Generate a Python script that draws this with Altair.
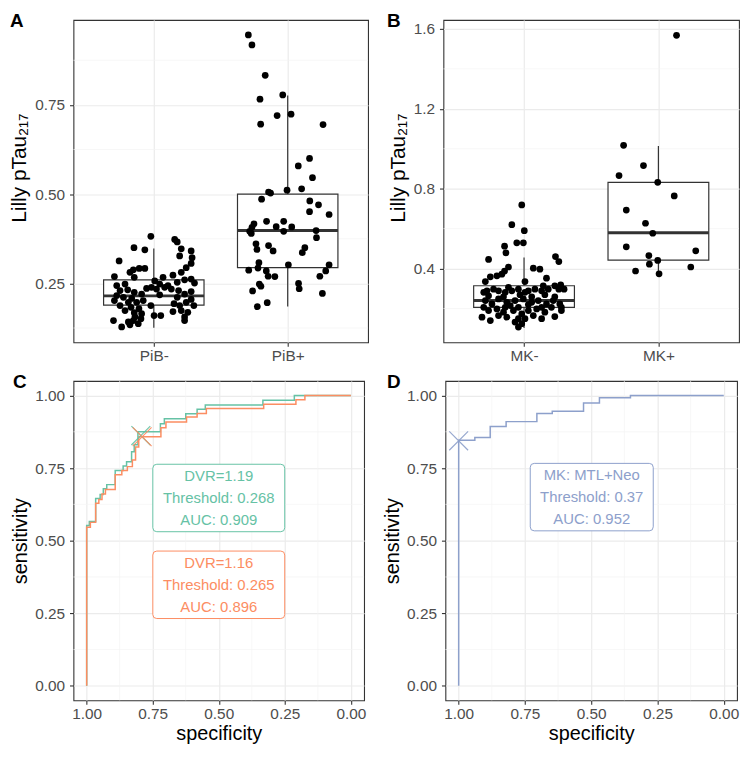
import altair as alt
import pandas as pd

FONT = "Liberation Sans"
GREEN, ORANGE, BLUE = "#66C2A5", "#FC8D62", "#8DA0CB"
DARK = "#333333"

# ---------------- Panel A data (offset from category centre, value) ----------------
a_cats = ["PiB-", "PiB+"]
a_neg = [(-0.022,0.382),(0.156,0.373),(0.175,0.366),(-0.148,0.350),(-0.067,0.344),(0.205,0.347),
         (0.279,0.341),(0.193,0.327),(0.286,0.322),(-0.259,0.313),(0.279,0.306),(0.242,0.294),
         (-0.153,0.288),(-0.109,0.292),(-0.067,0.292),(-0.178,0.281),(0.205,0.281),(-0.294,0.269),
         (-0.146,0.267),(0.069,0.267),(0.007,0.257),(0.143,0.273),(0.230,0.260),(0.279,0.262),
         (-0.277,0.244),(-0.215,0.248),(0.044,0.248),(0.106,0.244),(0.175,0.253),(0.304,0.251),
         (-0.054,0.236),(-0.017,0.239),(0.020,0.234),(0.081,0.239),(0.131,0.234),(-0.252,0.230),
         (-0.195,0.232),(-0.146,0.225),(-0.091,0.220),(0.185,0.230),(0.279,0.227),(-0.277,0.216),
         (-0.227,0.211),(-0.165,0.208),(0.044,0.218),(0.175,0.211),(0.230,0.220),(-0.294,0.202),
         (-0.190,0.197),(-0.128,0.197),(-0.079,0.202),(0.151,0.193),(0.242,0.197),(0.279,0.205),
         (-0.252,0.188),(-0.170,0.183),(-0.111,0.179),(-0.022,0.188),(0.193,0.188),(0.299,0.188),
         (-0.215,0.174),(-0.146,0.168),(-0.091,0.165),(0.205,0.174),(0.254,0.169),(0.143,0.171),
         (0.002,0.160),(0.052,0.160),(-0.141,0.156),(0.230,0.156),(-0.301,0.146),(-0.190,0.142),
         (-0.153,0.146),(-0.116,0.137),(-0.096,0.151),(0.230,0.146),(-0.240,0.128),(-0.178,0.134)]
a_pos = [(-0.294,0.946),(-0.267,0.918),(-0.168,0.833),(-0.207,0.766),(-0.037,0.778),(-0.202,0.696),
         (-0.079,0.720),(0.025,0.724),(0.264,0.695),(0.163,0.600),(0.079,0.579),(0.185,0.546),
         (-0.005,0.511),(0.104,0.515),(-0.143,0.506),(-0.128,0.503),(-0.195,0.486),(0.165,0.481),
         (0.230,0.470),(0.163,0.451),(0.309,0.443),(-0.158,0.424),(-0.030,0.424),(-0.086,0.409),
         (0.030,0.408),(-0.252,0.417),(-0.267,0.407),(-0.284,0.396),(-0.272,0.390),(-0.030,0.396),
         (0.212,0.398),(0.215,0.378),(-0.237,0.361),(-0.230,0.345),(-0.143,0.356),(-0.109,0.341),
         (0.128,0.350),(0.109,0.336),(-0.215,0.308),(0.005,0.302),(0.309,0.302),(-0.291,0.287),
         (-0.222,0.293),(-0.160,0.285),(-0.146,0.270),(-0.096,0.269),(0.284,0.285),(0.240,0.270),
         (-0.212,0.248),(-0.200,0.242),(0.081,0.250),(0.086,0.235),(-0.262,0.229),(0.259,0.222),
         (-0.153,0.196),(-0.227,0.185)]
# box statistics per category: lower whisker, q1, median, q3, upper whisker
a_lo = [0.126, 0.185]
a_q1 = [0.189, 0.294]
a_med = [0.215, 0.398]
a_q3 = [0.260, 0.500]
a_hi = [0.348, 0.776]
a_ticks = [0.25, 0.50, 0.75]
a_minor = [0.125, 0.375, 0.625, 0.875]

# ---------------- Panel B data ----------------
b_cats = ["MK-", "MK+"]
b_neg = [(-0.017,0.719),(-0.091,0.620),(0.002,0.590),(-0.054,0.529),(-0.005,0.529),(-0.145,0.512),
         (-0.135,0.479),(-0.264,0.446),(0.234,0.460),(0.259,0.435),(-0.116,0.408),(-0.145,0.388),
         (0.069,0.402),(0.118,0.397),(-0.202,0.364),(-0.165,0.372),(-0.251,0.359),(0.167,0.352),
         (0.007,0.335),(-0.288,0.335),(0.273,0.319),(0.298,0.297),(0.229,0.314),(0.259,0.297),
         (-0.300,0.281),(-0.227,0.297),(-0.190,0.289),(-0.140,0.281),(-0.091,0.289),(-0.042,0.297),
         (0.032,0.289),(0.081,0.297),(0.131,0.289),(0.180,0.297),(-0.264,0.264),(-0.153,0.259),
         (-0.030,0.269),(0.057,0.259),(0.155,0.269),(0.229,0.259),(-0.288,0.240),(-0.239,0.223),
         (-0.190,0.248),(-0.128,0.231),(-0.067,0.240),(-0.005,0.248),(0.057,0.231),(0.106,0.240),
         (0.167,0.223),(0.217,0.240),(0.266,0.223),(-0.103,0.215),(0.032,0.220),(-0.264,0.190),
         (-0.202,0.198),(-0.153,0.182),(-0.079,0.190),(-0.017,0.173),(0.032,0.190),(0.094,0.198),
         (0.155,0.182),(0.204,0.206),(0.278,0.206),(0.278,0.190),(-0.300,0.206),(0.131,0.206),
         (-0.140,0.206),(-0.042,0.206),(-0.313,0.157),(-0.251,0.140),(-0.128,0.157),(-0.042,0.149),
         (-0.017,0.124),(0.007,0.149),(0.069,0.165),(0.131,0.149),(-0.042,0.107),(-0.190,0.165),
         (0.229,0.160),(-0.067,0.132),(-0.116,0.306),(-0.276,0.289),(0.007,0.281),(0.143,0.314)]
b_pos = [(0.135,1.568),(-0.259,1.017),(-0.111,0.916),(-0.293,0.866),(-0.005,0.832),(0.118,0.764),
         (-0.239,0.693),(-0.096,0.627),(-0.042,0.577),(-0.239,0.509),(0.278,0.489),(-0.071,0.465),
         (-0.005,0.441),(-0.067,0.422),(0.241,0.408),(-0.170,0.388),(0.005,0.374)]
b_lo = [0.102, 0.374]
b_q1 = [0.206, 0.442]
b_med = [0.240, 0.579]
b_q3 = [0.314, 0.832]
b_hi = [0.455, 1.014]
b_ticks = [0.4, 0.8, 1.2, 1.6]
b_minor = [0.2, 0.6, 1.0, 1.4]

# ---------------- Panel C data (ROC step vertices) ----------------
c_green_spec = [1.000,1.000,0.990,0.990,0.966,0.966,0.949,0.949,0.937,0.937,0.924,0.924,0.892,0.892,
                0.862,0.862,0.849,0.849,0.830,0.830,0.820,0.820,0.806,0.806,0.721,0.721,0.706,0.706,
                0.625,0.625,0.582,0.582,0.551,0.551,0.333,0.333,0.214,0.214,0.000]
c_green_sens = [0.000,0.552,0.552,0.566,0.566,0.645,0.645,0.659,0.659,0.679,0.679,0.693,0.693,0.742,
                0.742,0.757,0.757,0.772,0.772,0.806,0.806,0.830,0.830,0.875,0.875,0.903,0.903,0.920,
                0.920,0.937,0.937,0.953,0.953,0.967,0.967,0.984,0.984,1.000,1.000]
c_orange_spec = [1.000,1.000,0.986,0.986,0.966,0.966,0.954,0.954,0.942,0.942,0.929,0.929,0.892,0.892,
                 0.867,0.867,0.846,0.846,0.827,0.827,0.815,0.815,0.803,0.803,0.719,0.719,0.700,0.700,
                 0.622,0.622,0.582,0.582,0.547,0.547,0.330,0.330,0.208,0.208,0.174,0.174,0.000]
c_orange_sens = [0.000,0.546,0.546,0.563,0.563,0.629,0.629,0.642,0.642,0.661,0.661,0.676,0.676,0.727,
                 0.727,0.742,0.742,0.755,0.755,0.778,0.778,0.823,0.823,0.858,0.858,0.889,0.889,0.909,
                 0.909,0.926,0.926,0.938,0.938,0.955,0.955,0.970,0.970,0.985,0.985,1.000,1.000]
c_best_spec = [0.795, 0.790]
c_best_sens = [0.862, 0.858]
c_label_spec = [0.50, 0.50]
c_label_sens = [0.647, 0.348]
c_label_text = [["DVR=1.19", "Threshold: 0.268", "AUC: 0.909"],
                ["DVR=1.16", "Threshold: 0.265", "AUC: 0.896"]]

# ---------------- Panel D data ----------------
d_spec = [1.000,1.000,0.939,0.939,0.881,0.881,0.821,0.821,0.705,0.705,0.647,0.647,0.529,0.529,
          0.469,0.469,0.352,0.352,0.000]
d_sens = [0.000,0.846,0.846,0.855,0.855,0.893,0.893,0.910,0.910,0.938,0.938,0.946,0.946,0.974,
          0.974,0.992,0.992,1.000,1.000]
d_best_spec = [1.000]
d_best_sens = [0.844]
d_label_spec = [0.498]
d_label_sens = [0.650]
d_label_text = [["MK: MTL+Neo", "Threshold: 0.37", "AUC: 0.952"]]

roc_ticks = [0.00, 0.25, 0.50, 0.75, 1.00]
roc_minor = [0.125, 0.375, 0.625, 0.875]

YTITLE = "Lilly pTau\u2082\u2081\u2087"
CROSS = "M-1,-1L1,1M-1,1L1,-1"


def rounded_box(w, h, r):
    s = w / 2.0
    hh = h / 2.0 / s
    c = r / s
    f = lambda v: f"{v:.4f}"
    return (f"M{f(-1+c)},{f(-hh)}H{f(1-c)}Q1,{f(-hh)} 1,{f(-hh+c)}V{f(hh-c)}"
            f"Q1,{f(hh)} {f(1-c)},{f(hh)}H{f(-1+c)}Q-1,{f(hh)} -1,{f(hh-c)}"
            f"V{f(-hh+c)}Q-1,{f(-hh)} {f(-1+c)},{f(-hh)}Z")


def panel_label(letter, dx):
    return alt.Chart(pd.DataFrame({"t": [letter]})).mark_text(
        align="left", baseline="top", fontSize=19, fontWeight="bold",
        font=FONT, color="black").encode(x=alt.value(dx), y=alt.value(-8), text="t:N")


def box_panel(letter, ldx, cats, neg, pos, lo, q1, med, q3, hi, ydom, yticks, yfmt, minor, w, h, title_y):
    rows = [{"x": 1 + o, "v": v} for o, v in neg] + [{"x": 2 + o, "v": v} for o, v in pos]
    pts = pd.DataFrame(rows)
    stats = pd.DataFrame({"cat": [1, 2], "lo": lo, "q1": q1, "med": med, "q3": q3, "hi": hi})
    xs = alt.Scale(domain=[0.4, 2.6], nice=False, zero=False)
    ys = alt.Scale(domain=ydom, nice=False, zero=False)
    xa = alt.Axis(values=[1, 2], title=None, grid=True, labelPadding=2,
                  labelExpr=f"datum.value == 1 ? '{cats[0]}' : '{cats[1]}'")
    ya = alt.Axis(values=yticks, format=yfmt, title=YTITLE, grid=True, titleY=title_y,
                  titleFontSize=21, titlePadding=5, labelPadding=5)

    minor_l = alt.Chart(pd.DataFrame({"m": minor})).mark_rule(
        color="#F3F3F3", strokeWidth=0.7).encode(y=alt.Y("m:Q", scale=ys, axis=ya))
    base = alt.Chart(stats).transform_calculate(
        xl="datum.cat - 0.375", xr="datum.cat + 0.375")
    wl = base.mark_rule(color=DARK, strokeWidth=1.2).encode(
        x=alt.X("cat:Q", scale=xs, axis=xa), y=alt.Y("lo:Q", scale=ys, axis=ya), y2="q1:Q")
    wh = base.mark_rule(color=DARK, strokeWidth=1.2).encode(
        x=alt.X("cat:Q", scale=xs, axis=xa), y=alt.Y("q3:Q", scale=ys, axis=ya), y2="hi:Q")
    bx = base.mark_rect(fill="white", stroke=DARK, strokeWidth=1.2).encode(
        x=alt.X("xl:Q", scale=xs, axis=xa), x2="xr:Q",
        y=alt.Y("q1:Q", scale=ys, axis=ya), y2="q3:Q")
    md = base.mark_rule(color=DARK, strokeWidth=3).encode(
        x=alt.X("xl:Q", scale=xs, axis=xa), x2="xr:Q", y=alt.Y("med:Q", scale=ys, axis=ya))
    pt = alt.Chart(pts).mark_circle(color="black", size=46, opacity=1).encode(
        x=alt.X("x:Q", scale=xs, axis=xa), y=alt.Y("v:Q", scale=ys, axis=ya))
    lab = panel_label(letter, ldx)
    return alt.layer(minor_l, wl, wh, bx, md, pt, lab).properties(width=w, height=h)


def roc_panel(letter, ldx, curves, bests, labels, w, h):
    xs = alt.Scale(domain=[-0.05, 1.05], nice=False, zero=False, reverse=True)
    ys = alt.Scale(domain=[-0.05, 1.05], nice=False, zero=False)
    xa = alt.Axis(values=roc_ticks, format=".2f", title="specificity", grid=True,
                  titlePadding=2, labelPadding=2)
    ya = alt.Axis(values=roc_ticks, format=".2f", title="sensitivity", grid=True,
                  titlePadding=4, labelPadding=5)
    layers = [
        alt.Chart(pd.DataFrame({"m": roc_minor})).mark_rule(color="#F3F3F3", strokeWidth=0.7)
        .encode(y=alt.Y("m:Q", scale=ys, axis=ya)),
        alt.Chart(pd.DataFrame({"m": roc_minor})).mark_rule(color="#F3F3F3", strokeWidth=0.7)
        .encode(x=alt.X("m:Q", scale=xs, axis=xa)),
    ]
    for spec, sens, col in curves:
        df = pd.DataFrame({"spec": spec, "sens": sens, "i": list(range(len(spec)))})
        layers.append(alt.Chart(df).mark_line(color=col, strokeWidth=1.5).encode(
            x=alt.X("spec:Q", scale=xs, axis=xa), y=alt.Y("sens:Q", scale=ys, axis=ya),
            order="i:Q"))
    for sx, sy, col in bests:
        df = pd.DataFrame({"spec": [sx], "sens": [sy]})
        layers.append(alt.Chart(df).mark_point(shape=CROSS, size=361, filled=False,
                                               color=col, strokeWidth=1.2, opacity=0.9).encode(
            x=alt.X("spec:Q", scale=xs, axis=xa), y=alt.Y("sens:Q", scale=ys, axis=ya)))
    for sx, sy, txt, col, bw in labels:
        df = pd.DataFrame({"spec": [sx], "sens": [sy], "txt": [txt]})
        layers.append(alt.Chart(df).mark_point(
            shape=rounded_box(bw, 68, 4), size=bw * bw, filled=True, fill="white",
            stroke=col, strokeWidth=1, opacity=1).encode(
            x=alt.X("spec:Q", scale=xs, axis=xa), y=alt.Y("sens:Q", scale=ys, axis=ya)))
        layers.append(alt.Chart(df).mark_text(
            font=FONT, fontSize=15, lineHeight=22, color=col, align="center",
            baseline="middle", dy=-22).encode(
            x=alt.X("spec:Q", scale=xs, axis=xa), y=alt.Y("sens:Q", scale=ys, axis=ya),
            text="txt:N"))
    layers.append(panel_label(letter, ldx))
    return alt.layer(*layers).properties(width=w, height=h)


A = box_panel("A", -64, a_cats, a_neg, a_pos, a_lo, a_q1, a_med, a_q3, a_hi,
              [0.085, 0.988], a_ticks, ".2f", a_minor, 297, 325, 149)
B = box_panel("B", -57, b_cats, b_neg, b_pos, b_lo, b_q1, b_med, b_q3, b_hi,
              [0.031, 1.645], b_ticks, ".1f", b_minor, 298, 325, 149)
C = roc_panel("C", -61,
              [(c_green_spec, c_green_sens, GREEN), (c_orange_spec, c_orange_sens, ORANGE)],
              [(c_best_spec[0], c_best_sens[0], GREEN), (c_best_spec[1], c_best_sens[1], ORANGE)],
              [(c_label_spec[0], c_label_sens[0], c_label_text[0], GREEN, 133),
               (c_label_spec[1], c_label_sens[1], c_label_text[1], ORANGE, 133)],
              293, 322)
D = roc_panel("D", -59,
              [(d_spec, d_sens, BLUE)],
              [(d_best_spec[0], d_best_sens[0], BLUE)],
              [(d_label_spec[0], d_label_sens[0], d_label_text[0], BLUE, 124)],
              294, 322)

chart = alt.vconcat(
    alt.hconcat(A, B, spacing=17),
    alt.hconcat(C, D, spacing=15),
    spacing=7,
).properties(padding=0).configure(font=FONT).configure_view(
    stroke=DARK, strokeWidth=1.1, fill="white"
).configure_axis(
    domain=False, tickColor=DARK, tickSize=4, tickWidth=1.1, labelColor="#4D4D4D",
    labelFontSize=15.5, labelFont=FONT, titleFont=FONT, titleFontSize=20,
    titleFontWeight="normal", titleColor="black", gridColor="#EBEBEB", gridWidth=1.2,
    labelPadding=2, titlePadding=7, labelFlush=False
)

chart.save("out.html", embed_options={"renderer": "svg", "actions": False})
